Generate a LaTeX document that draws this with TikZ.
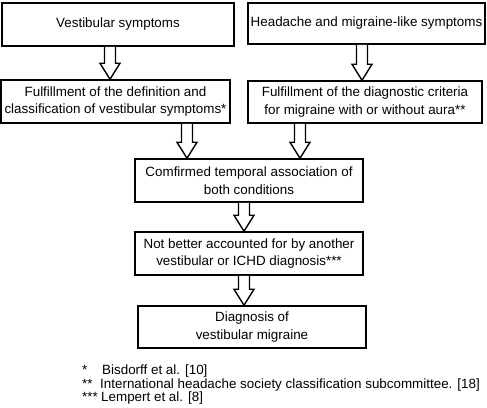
\documentclass[tikz,border=0pt]{standalone}
\usepackage{fontspec}
\setmainfont{Liberation Sans}
\usetikzlibrary{calc}
\tikzset{
  box/.style={draw=black, line width=1.5pt, inner sep=0pt, align=center,
    font=\fontsize{13.4}{17.5}\selectfont},
  arrowsty/.style={draw=black, line width=1.4pt, fill=white, line join=miter},
  note/.style={inner sep=0pt, anchor=base west, font=\fontsize{13.4}{13.5}\selectfont}
}
\newcommand\blockarrow[2]{%
  \draw[arrowsty] let \p1=#1, \p2=(#2.north) in
    (\x1-5.5pt,\y1) -- (\x1-5.5pt,\y2+16pt) -- (\x1-10pt,\y2+16pt) -- (\x1,\y2)
    -- (\x1+10pt,\y2+16pt) -- (\x1+5.5pt,\y2+16pt) -- (\x1+5.5pt,\y1);}
\begin{document}
\begin{tikzpicture}[x=1pt,y=-1pt]
\useasboundingbox (0,0) rectangle (487,407);
\node[box, minimum width=232pt, minimum height=43pt] (b1) at (118,24.5) {Vestibular symptoms};
\node[box, minimum width=237pt, minimum height=41pt] (b2) at (366.5,23.5) {Headache and migraine-like symptoms};
\node[box, minimum width=229pt, minimum height=43pt] (b3) at (115.5,101.5) {Fulfillment of the definition and\\classification of vestibular symptoms*};
\node[box, minimum width=234pt, minimum height=42pt] (b4) at (365,102) {Fulfillment of the diagnostic criteria\\for migraine with or without aura**};
\node[box, minimum width=228pt, minimum height=43pt] (b5) at (249,180.5) {Comfirmed temporal association of\\both conditions};
\node[box, minimum width=228pt, minimum height=43pt] (b6) at (249,253.5) {Not better accounted for by another\\vestibular or ICHD diagnosis***};
\node[box, minimum width=228pt, minimum height=42pt] (b7) at (252,327) {Diagnosis of\\vestibular migraine};
\blockarrow{([xshift=-8pt]b1.south)}{b3}
\blockarrow{([xshift=-4.5pt]b2.south)}{b4}
\blockarrow{([xshift=71.5pt]b3.south)}{b5}
\blockarrow{([xshift=-65pt]b4.south)}{b5}
\blockarrow{([xshift=-5pt]b5.south)}{b6}
\blockarrow{([xshift=-5pt]b6.south)}{b7}
\node[note] (s1) at (82,374) {*};
\node[note] (f1) at (102,374) {Bisdorff et al. [10]};
\node[note] (s2) at (82,388) {**};
\node[note] (f2) at (100,388) {International headache society classification subcommittee. [18]};
\node[note] (s3) at (82,401.5) {***};
\node[note] (f3) at (101,401.5) {Lempert et al. [8]};
\end{tikzpicture}
\end{document}
